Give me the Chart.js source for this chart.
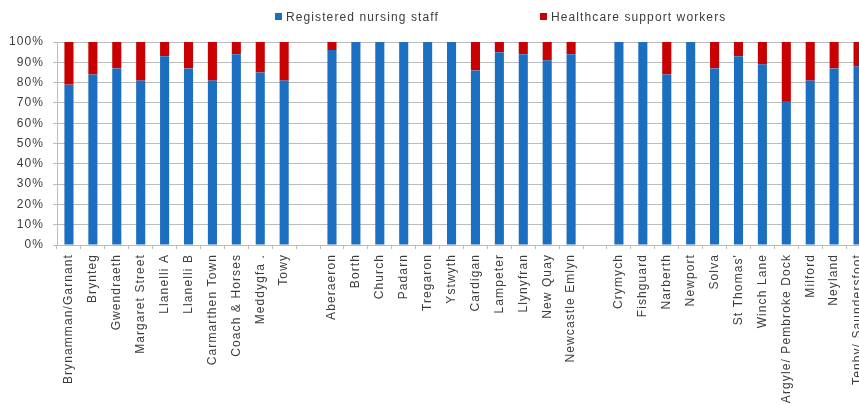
<!DOCTYPE html>
<html>
<head>
<meta charset="utf-8">
<script src="https://cdn.jsdelivr.net/npm/chart.js@4/dist/chart.umd.min.js"></script>
<style>
    html, body { margin: 0; padding: 0; background: #fff; overflow: hidden; }
    #wrap { width: 870px; height: 405px; }
</style>
</head>
<body>
<div id="wrap"><canvas id="myChart" width="870" height="405"></canvas></div>
<script>
// practices by cluster, blank entries separate the three clusters
const categories = [
    'Brynamman/Garnant', 'Brynteg', 'Gwendraeth', 'Margaret Street', 'Llanelli A', 'Llanelli B',
    'Carmarthen Town', 'Coach & Horses', 'Meddygfa .', 'Towy',
    '',
    'Aberaeron', 'Borth', 'Church', 'Padarn', 'Tregaron', 'Ystwyth', 'Cardigan', 'Lampeter',
    'Llynyfran', 'New Quay', 'Newcastle Emlyn',
    '',
    'Crymych', 'Fishguard', 'Narberth', 'Newport', 'Solva', "St Thomas'", 'Winch Lane',
    'Argyle/ Pembroke Dock', 'Milford', 'Neyland', 'Tenby/ Saundersfoot'
];

// share of nursing workforce, %
const registered = [
    79, 84, 87, 81, 93, 87, 81, 94, 85, 81,
    null,
    96, 100, 100, 100, 100, 100, 86, 95, 94, 91, 94,
    null,
    100, 100, 84, 100, 87, 93, 89, 70.5, 81, 87, 88
];
const support = [
    21, 16, 13, 19, 7, 13, 19, 6, 15, 19,
    null,
    4, 0, 0, 0, 0, 0, 14, 5, 6, 9, 6,
    null,
    0, 0, 16, 0, 13, 7, 11, 29.5, 19, 13, 12
];

const yTicks = [0, 10, 20, 30, 40, 50, 60, 70, 80, 90, 100];

const seriesNames = ['Registered nursing staff', 'Healthcare support workers'];
const seriesColors = ['#1c6ec1', '#c80000'];

const textColor = '#3c3c3c';
const gridColor = '#bcbcbc';

// spaced-out lettering on the canvas
const spacing = {
    id: 'spacing',
    beforeUpdate(chart) { chart.ctx.letterSpacing = '1.1px'; },
    beforeDraw(chart) { chart.ctx.letterSpacing = '1.1px'; }
};

// legend row drawn above the plot
const topLegend = {
    id: 'topLegend',
    afterDraw(chart) {
        const ctx = chart.ctx;
        const spots = [275, 540];
        ctx.save();
        ctx.letterSpacing = '1.1px';
        ctx.font = '12px "Liberation Sans", Arial, sans-serif';
        ctx.textBaseline = 'alphabetic';
        ctx.textAlign = 'left';
        chart.data.datasets.forEach((ds, i) => {
            ctx.fillStyle = ds.backgroundColor;
            ctx.fillRect(spots[i], 13, 7, 7);
            ctx.fillStyle = textColor;
            ctx.fillText(ds.label, spots[i] + 11, 21);
        });
        ctx.restore();
    }
};

const data = {
    labels: categories,
    datasets: [{
        label: seriesNames[0],
        data: registered,
        backgroundColor: seriesColors[0],
        barPercentage: 0.38,
        categoryPercentage: 1
    }, {
        label: seriesNames[1],
        data: support,
        backgroundColor: seriesColors[1],
        barPercentage: 0.38,
        categoryPercentage: 1
    }]
};

const config = {
    type: 'bar',
    data: data,
    options: {
        responsive: false,
        animation: false,
        layout: { padding: { top: 42, left: 0, right: 0, bottom: 0 } },
        plugins: {
            legend: { display: false },
            tooltip: { enabled: false }
        },
        scales: {
            x: {
                stacked: true,
                grid: {
                    drawOnChartArea: false,
                    drawTicks: true,
                    tickLength: 4,
                    color: gridColor
                },
                border: { color: gridColor },
                ticks: {
                    autoSkip: false,
                    minRotation: 90,
                    maxRotation: 90,
                    padding: 5,
                    color: textColor,
                    font: { family: '"Liberation Sans", Arial, sans-serif', size: 12 }
                },
                afterFit(scale) {
                    scale.height = 160;
                    scale.paddingRight = 0;
                }
            },
            y: {
                stacked: true,
                min: 0,
                max: 100,
                afterBuildTicks(scale) { scale.ticks = yTicks.map(v => ({ value: v })); },
                grid: { color: gridColor, tickLength: 4 },
                border: { color: gridColor },
                ticks: {
                    padding: 9,
                    color: textColor,
                    font: { family: '"Liberation Sans", Arial, sans-serif', size: 12 },
                    callback: v => v + '%'
                },
                afterFit(scale) { scale.width = 57; }
            }
        }
    },
    plugins: [spacing, topLegend]
};

const myChart = new Chart(document.getElementById('myChart'), config);
</script>
</body>
</html>
